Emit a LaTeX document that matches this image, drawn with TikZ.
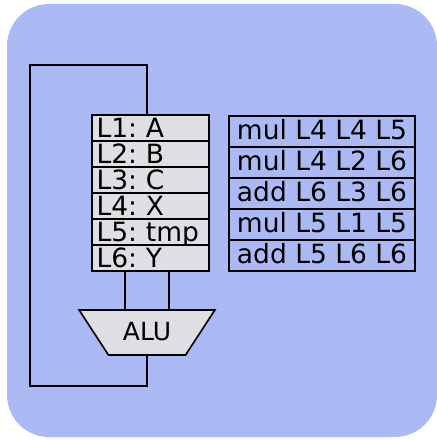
\documentclass[tikz,border=0pt]{standalone}
\usepackage{fontspec}
\setmainfont{DejaVu Sans}
\usetikzlibrary{shapes.geometric,positioning}
\definecolor{panelblue}{RGB}{171,186,245}
\definecolor{cellgray}{RGB}{223,223,227}

\begin{document}
\frenchspacing
\begin{tikzpicture}[
    x=1pt, y=-1pt,
    reg/.style={draw, line width=2.8pt, fill=cellgray, minimum width=117pt, minimum height=26pt, inner sep=0pt, text width=108pt, align=left, text height=19.3pt, text depth=0.7pt, font=\fontsize{26.5}{26.5}\selectfont},
    instr/.style={draw, line width=2.8pt, minimum width=186pt, minimum height=31pt, inner sep=0pt, text height=19.3pt, text depth=3.7pt, font=\fontsize{26.5}{26.5}\selectfont},
    wire/.style={line width=2.8pt}
]
    \useasboundingbox (0,0) rectangle (437,440);
    \fill[panelblue, rounded corners=42pt] (7,4) rectangle (437,437);

    % register file
    \node[reg] (reg1) at (150.5,128) {L1: A};
    \node[reg] (reg2) at (150.5,154) {L2: B};
    \node[reg] (reg3) at (150.5,180) {L3: C};
    \node[reg] (reg4) at (150.5,206) {L4: X};
    \node[reg] (reg5) at (150.5,232) {L5: tmp};
    \node[reg] (reg6) at (150.5,258) {L6: Y};

    % program
    \node[instr] (ins1) at (322,131.5) {mul L4 L4 L5};
    \node[instr] (ins2) at (322,162.5) {mul L4 L2 L6};
    \node[instr] (ins3) at (322,193.5) {add L6 L3 L6};
    \node[instr] (ins4) at (322,224.5) {mul L5 L1 L5};
    \node[instr] (ins5) at (322,255.5) {add L5 L6 L6};

    \node[trapezium, trapezium angle=47, trapezium stretches=true, shape border rotate=180,
          minimum width=136pt, minimum height=45pt, inner sep=0pt, draw, line width=1.6pt,
          fill=cellgray, text height=18pt, text depth=1.6pt, font=\fontsize{25}{25}\selectfont] (alu) at (147,332.5) {ALU};

    \coordinate (loopbl) at (30,386);
    \coordinate (looptl) at (30,65);

    \draw[wire] ([xshift=-22pt]alu.north) -- ([xshift=-22pt]alu.north |- reg6.south);
    \draw[wire] ([xshift=22pt]alu.north) -- ([xshift=22pt]alu.north |- reg6.south);
    \draw[wire] (alu.south) |- (loopbl) -- (looptl) -| (alu.north |- reg1.north);
\end{tikzpicture}
\end{document}
